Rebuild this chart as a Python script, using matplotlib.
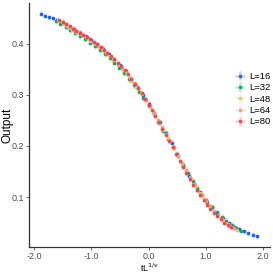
import matplotlib
matplotlib.use("Agg")
import matplotlib.pyplot as plt

# data collapse
x_16 = [-1.88, -1.81, -1.74, -1.67, -1.60, -1.50, -1.40, -1.30, -1.20, -1.10, -1.00, -0.90, -0.80, -0.70,
        -0.60, -0.50, -0.40, -0.30, -0.20, -0.10, 0.00, 0.10, 0.20, 0.30, 0.40, 0.50, 0.60, 0.70, 0.80,
        0.90, 1.00, 1.10, 1.20, 1.30, 1.40, 1.50, 1.58, 1.66, 1.74, 1.82, 1.89]
y_16 = [0.459, 0.455, 0.452, 0.450, 0.447, 0.441, 0.435, 0.429, 0.422, 0.415, 0.407, 0.399, 0.390, 0.380,
        0.369, 0.358, 0.346, 0.331, 0.316, 0.300, 0.283, 0.265, 0.246, 0.226, 0.206, 0.185, 0.161, 0.142,
        0.125, 0.109, 0.095, 0.081, 0.069, 0.058, 0.049, 0.042, 0.037, 0.033, 0.029, 0.026, 0.023]

x_32 = [-1.62, -1.54, -1.45, -1.37, -1.28, -1.19, -1.11, -1.02, -0.94, -0.85, -0.77, -0.68, -0.60, -0.51,
        -0.43, -0.34, -0.26, -0.17, -0.09, 0.00, 0.09, 0.17, 0.26, 0.34, 0.43, 0.51, 0.60, 0.68, 0.77,
        0.85, 0.94, 1.02, 1.11, 1.19, 1.28, 1.36, 1.45, 1.53, 1.62]
y_32 = [0.444, 0.439, 0.433, 0.427, 0.421, 0.415, 0.409, 0.402, 0.395, 0.388, 0.380, 0.372, 0.363, 0.353,
        0.342, 0.331, 0.319, 0.306, 0.293, 0.279, 0.263, 0.247, 0.229, 0.214, 0.197, 0.180, 0.162, 0.147,
        0.131, 0.117, 0.103, 0.091, 0.080, 0.070, 0.061, 0.053, 0.046, 0.040, 0.034]

x_48 = [-1.58, -1.50, -1.42, -1.34, -1.26, -1.18, -1.10, -1.02, -0.94, -0.86, -0.78, -0.70, -0.62, -0.54,
        -0.46, -0.38, -0.30, -0.22, -0.14, -0.06, 0.02, 0.10, 0.18, 0.26, 0.34, 0.42, 0.50, 0.58, 0.66,
        0.74, 0.82, 0.90, 0.98, 1.06, 1.14, 1.22, 1.30, 1.38, 1.46, 1.54]
y_48 = [0.446, 0.441, 0.435, 0.428, 0.424, 0.419, 0.413, 0.406, 0.400, 0.393, 0.386, 0.377, 0.369, 0.359,
        0.350, 0.340, 0.328, 0.316, 0.303, 0.290, 0.276, 0.262, 0.247, 0.232, 0.215, 0.199, 0.183, 0.165,
        0.151, 0.136, 0.122, 0.108, 0.096, 0.084, 0.073, 0.063, 0.055, 0.047, 0.041, 0.036]

x_64 = [-1.52, -1.45, -1.38, -1.31, -1.24, -1.17, -1.10, -1.03, -0.96, -0.89, -0.82, -0.75, -0.68, -0.61,
        -0.54, -0.47, -0.40, -0.33, -0.26, -0.19, -0.12, -0.05, 0.02, 0.09, 0.16, 0.23, 0.30, 0.37, 0.44,
        0.51, 0.58, 0.65, 0.72, 0.79, 0.86, 0.93, 1.00, 1.07, 1.14, 1.21, 1.28, 1.35, 1.42, 1.49]
y_64 = [0.443, 0.437, 0.432, 0.428, 0.423, 0.418, 0.413, 0.407, 0.401, 0.396, 0.390, 0.383, 0.376, 0.369,
        0.361, 0.353, 0.344, 0.334, 0.323, 0.313, 0.302, 0.290, 0.278, 0.265, 0.251, 0.238, 0.224, 0.210,
        0.196, 0.181, 0.166, 0.153, 0.139, 0.126, 0.114, 0.103, 0.092, 0.082, 0.072, 0.064, 0.057, 0.050,
        0.044, 0.039]

x_80 = [-1.56, -1.50, -1.44, -1.38, -1.32, -1.26, -1.20, -1.14, -1.08, -1.02, -0.96, -0.90, -0.84, -0.78,
        -0.72, -0.66, -0.60, -0.54, -0.48, -0.42, -0.36, -0.30, -0.24, -0.18, -0.12, -0.06, 0.00, 0.06,
        0.12, 0.18, 0.24, 0.30, 0.36, 0.42, 0.48, 0.54, 0.60, 0.66, 0.72, 0.78, 0.84, 0.90, 0.96, 1.02,
        1.08, 1.14, 1.20, 1.26, 1.32, 1.38, 1.44]
y_80 = [0.446, 0.442, 0.438, 0.434, 0.430, 0.426, 0.422, 0.418, 0.413, 0.409, 0.404, 0.399, 0.394, 0.388,
        0.382, 0.376, 0.370, 0.363, 0.356, 0.348, 0.340, 0.332, 0.322, 0.313, 0.303, 0.292, 0.281, 0.270,
        0.258, 0.246, 0.234, 0.222, 0.209, 0.197, 0.184, 0.171, 0.159, 0.147, 0.135, 0.124, 0.113, 0.103,
        0.094, 0.085, 0.077, 0.069, 0.062, 0.056, 0.050, 0.045, 0.041]

x_err = 0.035
y_err = 0.005

labels = ["L=16", "L=32", "L=48", "L=64", "L=80"]
colors = ["#1f5fe0", "#10a468", "#fbc15e", "#f99c86", "#f0454a"]
series = [(x_16, y_16), (x_32, y_32), (x_48, y_48), (x_64, y_64), (x_80, y_80)]

plt.rcParams["axes.unicode_minus"] = False
plt.rcParams["font.family"] = "Liberation Sans"

fig = plt.figure(figsize=(2.73, 2.73), dpi=100)
ax = fig.add_axes([0.106, 0.095, 0.883, 0.894])

for (xs, ys), lab, col in zip(series, labels, colors):
    ax.errorbar(xs, ys, xerr=x_err, yerr=y_err, fmt="o", ms=2.5, mew=0, color=col,
                ecolor=col, elinewidth=1.8, label=lab, capsize=0, zorder=3)
    # the error bars are faint in the reference
    for bar in ax.containers[-1].lines[2]:
        bar.set_alpha(0.25)

ax.set_xlim(-2.09, 2.12)
ax.set_ylim(0.002, 0.48)
ax.set_xticks([-2, -1, 0, 1, 2])
ax.set_xticklabels(["-2.0", "-1.0", "0.0", "1.0", "2.0"])
ax.set_yticks([0.1, 0.2, 0.3, 0.4])
ax.set_yticklabels(["0.1", "0.2", "0.3", "0.4"])
ax.tick_params(labelsize=6.5, labelcolor="#4d4d4d", color="#4d4d4d", length=2, width=0.6, pad=1.5)
for s in ["top", "right"]:
    ax.spines[s].set_visible(False)
for s in ["left", "bottom"]:
    ax.spines[s].set_color("#333333")
    ax.spines[s].set_linewidth(0.9)

ax.set_xlabel(r"tL$^{1/\nu}$", fontsize=6.5)
ax.set_ylabel("Output", fontsize=8.5)
ax.xaxis.set_label_coords(0.5, -0.06)
ax.yaxis.set_label_coords(-0.062, 0.5)

ax.legend(loc="center left", bbox_to_anchor=(0.845, 0.637), bbox_transform=fig.transFigure,
          frameon=False, fontsize=6.8, handlelength=1.0, handletextpad=0.5, labelspacing=0.25,
          borderpad=0)

fig.savefig("out.png", dpi=100)
